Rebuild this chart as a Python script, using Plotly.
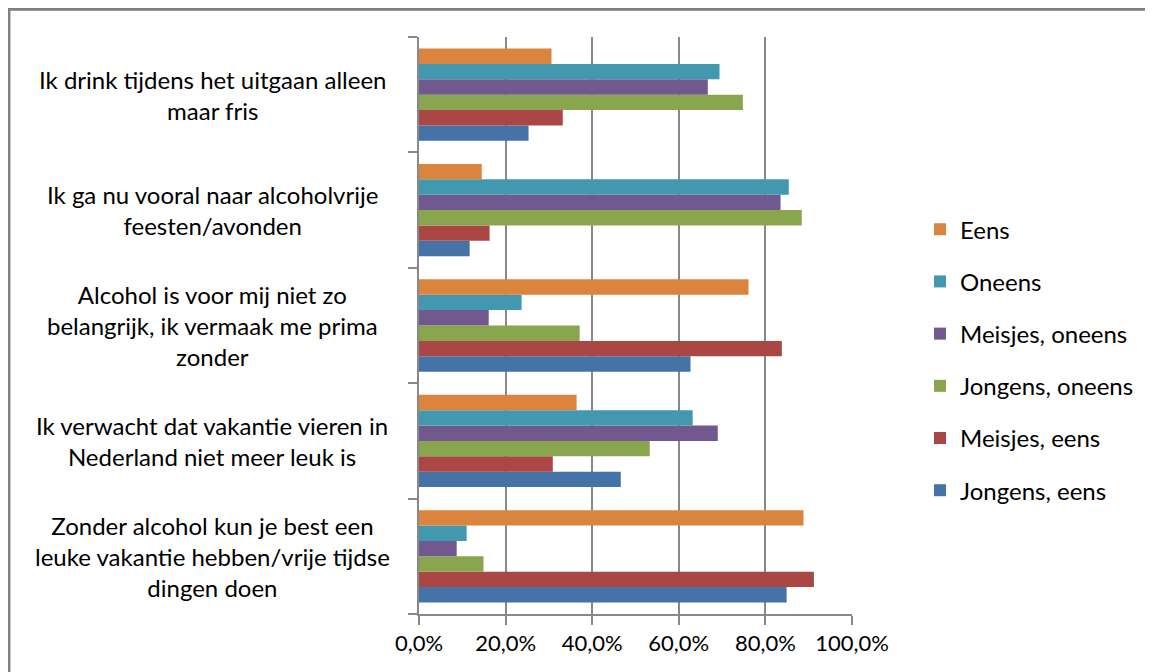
import plotly.graph_objects as go

categories = [
    "Ik drink tijdens het uitgaan alleen<br>maar fris",
    "Ik ga nu vooral naar alcoholvrije<br>feesten/avonden",
    "Alcohol is voor mij niet zo<br>belangrijk, ik vermaak me prima<br>zonder",
    "Ik verwacht dat vakantie vieren in<br>Nederland niet meer leuk is",
    "Zonder alcohol kun je best een<br>leuke vakantie hebben/vrije tijdse<br>dingen doen",
]

# values in percent, one list per series (top-to-bottom category order)
jongens_eens = [25.3, 11.7, 62.7, 46.6, 84.9]
meisjes_eens = [33.2, 16.3, 83.8, 30.9, 91.2]
jongens_oneens = [74.8, 88.4, 37.1, 53.3, 14.9]
meisjes_oneens = [66.7, 83.5, 16.1, 69.0, 8.7]
oneens = [69.4, 85.4, 23.7, 63.2, 11.0]
eens = [30.6, 14.5, 76.1, 36.4, 88.8]

series_names = ["Jongens, eens", "Meisjes, eens", "Jongens, oneens",
                "Meisjes, oneens", "Oneens", "Eens"]
series_values = [jongens_eens, meisjes_eens, jongens_oneens,
                 meisjes_oneens, oneens, eens]
series_colors = ["#4572A7", "#AA4643", "#89A54E", "#71588F", "#4198AF", "#DB843D"]

x_tickvals = [0, 20, 40, 60, 80, 100]
x_ticktext = ["0,0%", "20,0%", "40,0%", "60,0%", "80,0%", "100,0%"]

FONT = "Lato, 'Open Sans', sans-serif"
GRID = "#888888"

fig = go.Figure()
n = len(series_names)
for i, (name, vals, col) in enumerate(zip(series_names, series_values, series_colors)):
    fig.add_trace(go.Bar(
        y=categories, x=vals, name=name, orientation="h",
        marker=dict(color=col, line=dict(width=0)),
        legendgroup=name, legendrank=n - i,
    ))

annotations = []
for cat in categories:
    annotations.append(dict(
        xref="paper", yref="y", x=-0.478, y=cat, text=cat,
        showarrow=False, xanchor="center", yanchor="middle", align="center",
        font=dict(family=FONT, size=24, color="#000000"),
    ))

fig.update_layout(
    width=1153, height=672,
    margin=dict(l=411, r=309, t=29, b=66),
    paper_bgcolor="white", plot_bgcolor="white",
    barmode="group", bargap=0.2, bargroupgap=0,
    font=dict(family=FONT, size=22, color="#000000"),
    showlegend=True,
    legend=dict(
        x=1.157, xanchor="left", y=0.44, yanchor="middle",
        traceorder="grouped", tracegroupgap=18,
        font=dict(family=FONT, size=24, color="#000000"),
        bgcolor="rgba(0,0,0,0)",
    ),
    xaxis=dict(
        range=[0, 100], tickvals=x_tickvals, ticktext=x_ticktext,
        showgrid=True, gridcolor=GRID, gridwidth=2,
        showline=True, linecolor=GRID, linewidth=2,
        ticks="outside", ticklen=9, tickcolor=GRID, tickwidth=2,
        zeroline=False, fixedrange=True,
        tickfont=dict(family=FONT, size=22, color="#000000"),
    ),
    yaxis=dict(
        type="category", categoryorder="array", categoryarray=categories[::-1],
        showticklabels=False, tickson="boundaries",
        ticks="outside", ticklen=9, tickcolor=GRID, tickwidth=2,
        showline=True, linecolor=GRID, linewidth=2,
        showgrid=False, zeroline=False,
    ),
    annotations=annotations,
    shapes=[dict(
        type="rect", xref="paper", yref="paper",
        x0=-0.947, x1=2.0, y0=-0.3, y1=1.048,
        line=dict(color="#808080", width=3), layer="below",
    )],
)

fig.write_html("out.html")
